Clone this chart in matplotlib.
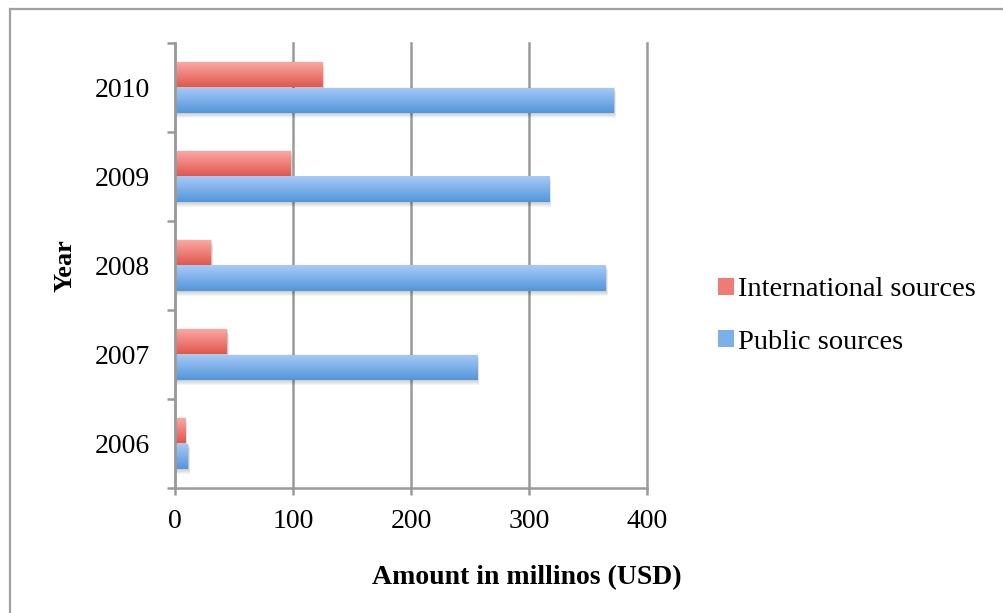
#
# python3 plot.py
#
import matplotlib
matplotlib.use("Agg")
import matplotlib.pyplot as plt
import numpy as np
from matplotlib.colors import LinearSegmentedColormap
from matplotlib.patches import Rectangle, Patch

###########
years = ["2006", "2007", "2008", "2009", "2010"]
international = [8.5, 44, 30.5, 98, 125]
public = [11, 256, 365, 317, 372]
xticks = [0, 100, 200, 300, 400]

plt.rcParams['font.family'] = ['Liberation Serif', 'DejaVu Serif']

red_top, red_bot = "#fdaaa6", "#df584e"
blue_top, blue_bot = "#a7caf9", "#5396da"
grid_col = "#9a9a9a"

fig = plt.figure(figsize=(10.04, 6.13), dpi=100)
ax = fig.add_axes([175/1004, 1-488/613, 472/1004, 445/613])

# outer frame of the chart area
fig.patches.append(Rectangle((10/1004, -0.2), 1.2, 1.2 - 9/613,
                             transform=fig.transFigure, fill=False,
                             edgecolor="#a0a0a0", linewidth=1.6))

y = np.arange(len(years))
h = 0.29


def gradient_bars(bars, top, bot):
    cmap = LinearSegmentedColormap.from_list("g", [bot, top])
    grad = np.linspace(0, 1, 64).reshape(-1, 1)
    for b in bars:
        x0, y0 = b.get_x(), b.get_y()
        w, hh = b.get_width(), b.get_height()
        # soft drop shadow, mostly below the bar
        for k in range(6):
            s = Rectangle((x0, y0 - 0.055 + 0.012*k), w + 1.8 - 0.25*k, hh,
                          facecolor="black", alpha=0.04, linewidth=0, zorder=1.5)
            ax.add_patch(s)
        im = ax.imshow(grad, extent=(x0, x0 + w, y0, y0 + hh), origin="lower",
                       cmap=cmap, aspect="auto", zorder=2, interpolation="bicubic")
        im.set_clip_path(b)
        b.set_facecolor("none")


bi = ax.barh(y + h/2, international, height=h, linewidth=0, zorder=2)
bp = ax.barh(y - h/2, public, height=h, linewidth=0, zorder=2)
gradient_bars(bi, red_top, red_bot)
gradient_bars(bp, blue_top, blue_bot)

ax.set_xlim(0, 400)
ax.set_ylim(-0.5, len(years) - 0.5)
ax.set_xticks(xticks)
ax.set_xticklabels([str(v) for v in xticks], fontsize=20)
ax.set_yticks(y)
ax.set_yticklabels(years, fontsize=20)
ax.set_yticks(np.arange(-0.5, len(years)), minor=True)
ax.tick_params(axis="y", which="major", length=0, pad=18)
ax.tick_params(axis="y", which="minor", length=6, width=1.8, color=grid_col, direction="out")
ax.tick_params(axis="x", which="major", length=5, width=1.8, color=grid_col, pad=10)

ax.grid(axis="x", color=grid_col, linewidth=1.8, zorder=0)
for gl in ax.xaxis.get_gridlines():
    gl.set_clip_on(False)
ax.set_axisbelow(True)
for side in ["top", "right"]:
    ax.spines[side].set_visible(False)
for side in ["left", "bottom"]:
    ax.spines[side].set_color(grid_col)
    ax.spines[side].set_linewidth(1.8)

ax.set_xlabel("Amount in millinos (USD)", fontsize=20, fontweight="bold")
ax.xaxis.label.set_va("center")
ax.xaxis.set_label_coords(0.746, -0.202)
ax.set_ylabel("Year", fontsize=19, fontweight="bold")
ax.yaxis.label.set_va("center")
ax.yaxis.set_label_coords(-0.233, 0.499)

handles = [Patch(facecolor="#ef7b74", label="International sources"),
           Patch(facecolor="#7cb0ea", label="Public sources")]
fig.legend(handles=handles, loc="center left", bbox_to_anchor=(704/1004, 1-316/613),
           frameon=False, fontsize=20.5, handlelength=0.55, handleheight=0.55,
           handletextpad=0.15, labelspacing=0.95, borderpad=0)

plt.savefig("out.png", dpi=100)
